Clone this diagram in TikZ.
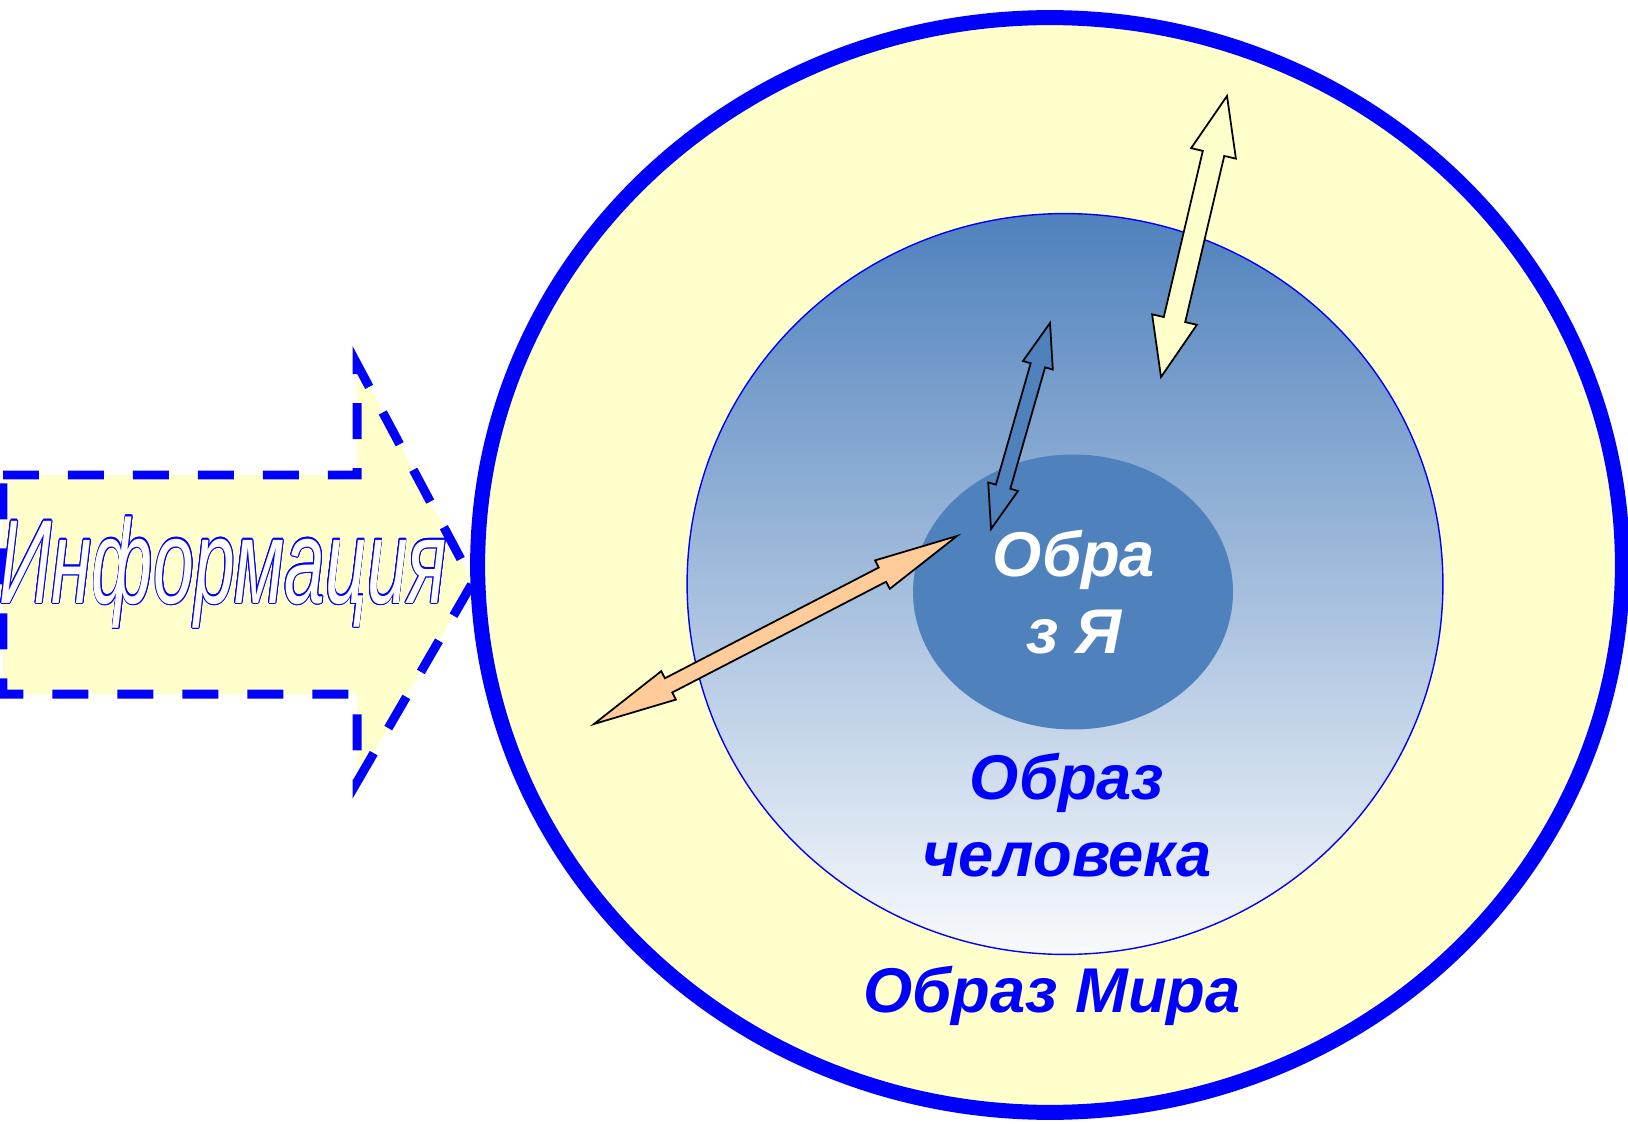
\documentclass[tikz,border=0pt]{standalone}
\usepackage{fontspec}
\setmainfont{Liberation Sans}
\usepackage{graphicx}
\usepackage{contour}
\usetikzlibrary{shapes.geometric,calc}
\definecolor{pureblue}{HTML}{0000FF}
\definecolor{paleyellow}{HTML}{FFFFCC}
\definecolor{steelblue}{HTML}{4F81BD}
\definecolor{peach}{HTML}{FFCC99}
\contourlength{0.75pt}
\tikzset{
  world/.style={ellipse, draw=pureblue, line width=0.3cm, fill=paleyellow,
                minimum width=22.9cm, minimum height=21.9cm, inner sep=0pt},
  person/.style={ellipse, draw=pureblue, line width=0.8pt, top color=steelblue,
                 bottom color=steelblue!4, minimum width=15.12cm, minimum height=14.82cm, inner sep=0pt},
  selfimg/.style={ellipse, fill=steelblue, minimum width=6.4cm, minimum height=5.5cm, inner sep=0pt},
  infoarrow/.style={draw=pureblue, line width=0.18cm, dash pattern=on 0.72cm off 0.58cm,
                    fill=paleyellow, line join=miter},
  fatar/.style={draw=black, line width=1pt, line join=miter},
  lbl/.style={font=\fontsize{36}{43.5}\selectfont\bfseries\itshape, align=center, inner sep=0pt}
}
% two-headed block arrow: style, from, to, head length, head half width, shaft half width
\newcommand{\fatarrow}[6]{%
  \draw[#1] (#2)
    -- ($(#2)!#4!(#3)!#5!90:(#3)$) -- ($(#2)!#4!(#3)!#6!90:(#3)$)
    -- ($(#3)!#4!(#2)!#6!-90:(#2)$) -- ($(#3)!#4!(#2)!#5!-90:(#2)$)
    -- (#3)
    -- ($(#3)!#4!(#2)!#5!90:(#2)$) -- ($(#3)!#4!(#2)!#6!90:(#2)$)
    -- ($(#2)!#4!(#3)!#6!-90:(#3)$) -- ($(#2)!#4!(#3)!#5!-90:(#3)$)
    -- cycle;}

\begin{document}
\begin{tikzpicture}[x=0.02cm, y=-0.02cm]
\useasboundingbox (0,0) rectangle (1628,1124);
% ---- incoming information ----
\draw[infoarrow] (3,475) -- (357,475) -- (357,364) -- (473,582) -- (357,782) -- (357,694) -- (3,694) -- cycle;
% ---- nested images ----
\node[world] (world) at (1050,565) {};
\node[person] (person) at (1065,584) {};
\node[selfimg] (self) at (1073,592) {};
% ---- exchange arrows ----
\coordinate (peachA) at (594,724);
\coordinate (peachB) at (957,536);
\coordinate (selfA) at (991,529);
\coordinate (selfB) at (1050,323);
\coordinate (personA) at (1161,377);
\coordinate (personB) at (1227,96);
\fatarrow{fatar, fill=peach}{peachA}{peachB}{1.68cm}{0.32cm}{0.16cm}
\fatarrow{fatar, fill=steelblue}{selfA}{selfB}{0.88cm}{0.31cm}{0.15cm}
\fatarrow{fatar, fill=paleyellow}{personA}{personB}{1.18cm}{0.46cm}{0.22cm}
% ---- labels ----
\node[lbl, text=white] (selfname) at (1074,592) {Обра\\з Я};
\node[lbl, text=pureblue] (personname) at (1067,815) {Образ\\человека};
\node[lbl, text=pureblue, anchor=base] (worldname) at (1052,1012) {Образ Мира};
\node[anchor=base west, inner sep=0pt, font=\fontsize{68}{68}\selectfont\itshape] (info) at (-1,603)
  {\resizebox{8.95cm}{\height}{\contour{pureblue}{\textcolor{white}{Информация}}}};
\end{tikzpicture}
\end{document}
